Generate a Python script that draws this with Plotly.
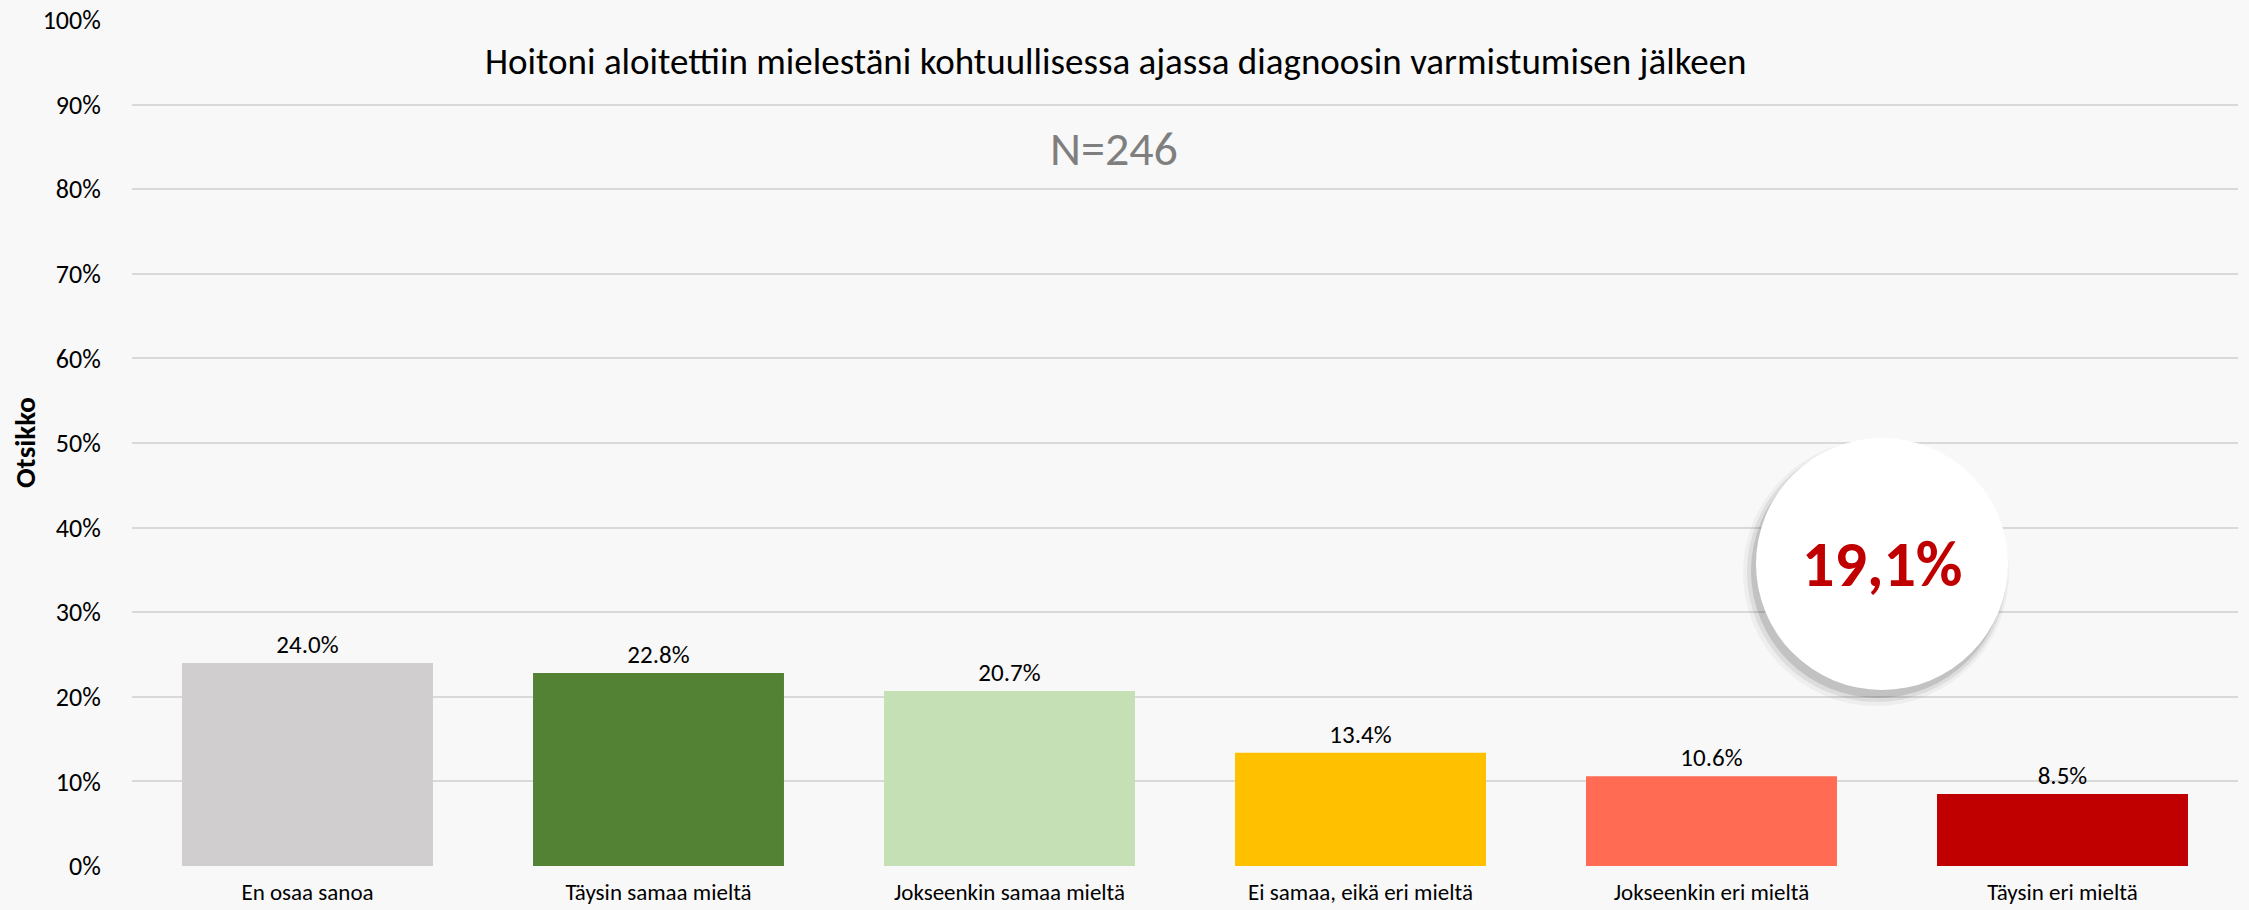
import plotly.graph_objects as go

categories = ["En osaa sanoa", "Täysin samaa mieltä", "Jokseenkin samaa mieltä",
              "Ei samaa, eikä eri mieltä", "Jokseenkin eri mieltä", "Täysin eri mieltä"]
values = [24.0, 22.8, 20.7, 13.4, 10.6, 8.5]
colors = ["#D0CECE", "#548235", "#C5E0B4", "#FFC000", "#FF6B53", "#C00000"]
y_ticks = list(range(0, 101, 10))
y_tick_labels = [f"{v}%" for v in y_ticks]
title_text = "Hoitoni aloitettiin mielestäni kohtuullisessa ajassa diagnoosin varmistumisen jälkeen"
n_text = "N=246"
highlight_text = "19,1%"
y_title = "Otsikko"

FONT = "Calibri, Carlito, Lato, sans-serif"
L, R, T, B = 132, 11, 20, 44
W, H = 2249, 910
PW, PH = W - L - R, H - T - B


def px(x):
    return (x - L) / PW


def py(y):
    return (H - B - y) / PH


fig = go.Figure()
fig.add_trace(go.Bar(
    x=categories, y=values,
    marker=dict(color=colors, line=dict(width=0)),
    text=[f"{v:.1f}%" for v in values],
    textposition="outside",
    textfont=dict(family=FONT, size=25, color="#000000"),
    cliponaxis=False,
    hoverinfo="skip",
))

fig.update_layout(
    width=W, height=H,
    margin=dict(l=L, r=R, t=T, b=B, autoexpand=False),
    paper_bgcolor="#F8F8F8", plot_bgcolor="#F8F8F8",
    bargap=0.285,
    showlegend=False,
    font=dict(family=FONT, size=23, color="#000000"),
)
fig.update_yaxes(
    range=[0, 100], tickvals=y_ticks, ticktext=y_tick_labels,
    showgrid=True, gridcolor="#D9D9D9", gridwidth=2,
    zeroline=False, showline=False, automargin=False,
    ticks="outside", ticklen=25, tickcolor="rgba(0,0,0,0)",
    tickfont=dict(family=FONT, size=26, color="#000000"),
)
fig.update_xaxes(
    showgrid=False, showline=False, zeroline=False, automargin=False,
    ticks="outside", ticklen=5, tickcolor="rgba(0,0,0,0)",
    tickfont=dict(family=FONT, size=23, color="#000000"),
)

# circle with soft shadow
cx, cy, r = px(1882), py(564), 126
for dx, dy, extra, op in [(-6, -9, 7, 0.04), (-5, -8, 4, 0.07), (-4, -7, 1, 0.12)]:
    fig.add_shape(type="circle", xref="paper", yref="paper",
                  xsizemode="pixel", ysizemode="pixel", xanchor=cx, yanchor=cy,
                  x0=-r - extra + dx, x1=r + extra + dx, y0=-r - extra + dy, y1=r + extra + dy,
                  fillcolor=f"rgba(0,0,0,{op})", line=dict(width=0), layer="above")
fig.add_shape(type="circle", xref="paper", yref="paper",
              xsizemode="pixel", ysizemode="pixel", xanchor=cx, yanchor=cy,
              x0=-r, x1=r, y0=-r, y1=r,
              fillcolor="#FFFFFF", line=dict(width=0), layer="above")

fig.add_annotation(x=cx, y=cy, xref="paper", yref="paper", text=f"<b>{highlight_text}</b>",
                   showarrow=False, font=dict(family=FONT, size=64, color="#C00000"),
                   xanchor="center", yanchor="middle")

fig.add_annotation(x=px(1116), y=py(62), xref="paper", yref="paper",
                   text=title_text, showarrow=False,
                   font=dict(family=FONT, size=37, color="#000000"),
                   xanchor="center", yanchor="middle")
fig.add_annotation(x=px(1114), y=py(148), xref="paper", yref="paper",
                   text=n_text, showarrow=False,
                   font=dict(family=FONT, size=48, color="#7F7F7F"),
                   xanchor="center", yanchor="middle")
fig.add_annotation(x=px(25), y=py(443), xref="paper", yref="paper",
                   xanchor="center", yanchor="middle",
                   text=f"<b>{y_title}</b>", textangle=-90, showarrow=False,
                   font=dict(family=FONT, size=29, color="#000000"))

fig.write_html(
    "out.html",
    config={"displayModeBar": False},
    post_script="document.body.style.margin='0';document.body.style.overflow='hidden';",
)
